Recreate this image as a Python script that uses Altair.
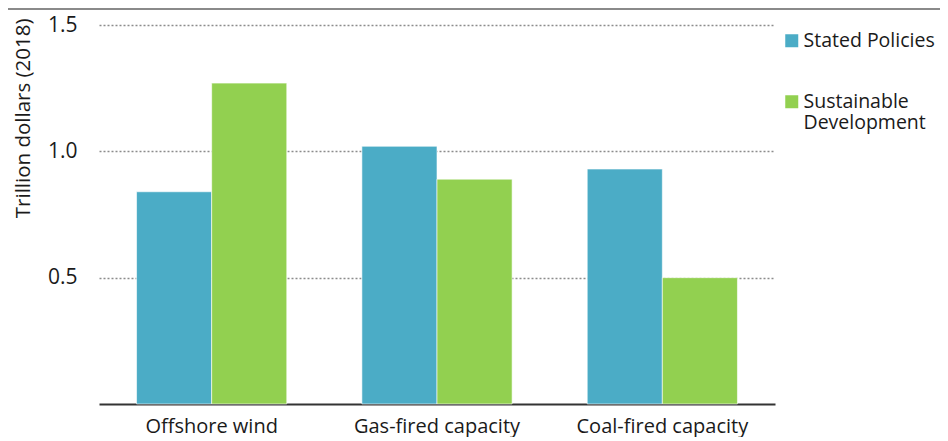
import altair as alt
import pandas as pd

categories = ["Offshore wind", "Gas-fired capacity", "Coal-fired capacity"]
scenarios = ["Stated Policies", "Sustainable Development"]
stated_policies = [0.84, 1.02, 0.93]
sustainable_development = [1.27, 0.89, 0.50]
colors = ["#4BACC6", "#92D050"]
y_ticks = [0.5, 1.0, 1.5]

rows = []
for c, a, b in zip(categories, stated_policies, sustainable_development):
    rows.append({"category": c, "scenario": scenarios[0], "value": a})
    rows.append({"category": c, "scenario": scenarios[1], "value": b})
df = pd.DataFrame(rows)

FONT = "Open Sans"
TXT = "#1a1a1a"

bars = alt.Chart(df).mark_bar(stroke="white", strokeWidth=0.6).encode(
    x=alt.X(
        "category:N", sort=categories, title=None,
        scale=alt.Scale(paddingInner=1 / 3, paddingOuter=1 / 6),
        axis=alt.Axis(labelAngle=0, labelFontSize=20, labelColor=TXT, labelFont=FONT,
                      domainColor="#333333", domainWidth=2, ticks=False, labelPadding=12),
    ),
    xOffset=alt.XOffset("scenario:N", sort=scenarios,
                        scale=alt.Scale(paddingInner=0, paddingOuter=0)),
    y=alt.Y(
        "value:Q", title="Trillion dollars (2018)",
        scale=alt.Scale(domain=[0, 1.5], nice=False),
        axis=alt.Axis(values=y_ticks, format=".1f", domain=False, ticks=False, grid=True,
                      gridDash=[2, 2], gridColor="#8c8c8c", gridWidth=1.4,
                      labelFontSize=21, labelFont=FONT, labelColor=TXT, labelPadding=22,
                      titleFont=FONT, titleFontSize=20.5, titleFontWeight="normal",
                      titleColor=TXT, titleAngle=270, titleAlign="right",
                      titleBaseline="middle", titleX=-76, titleY=-7),
    ),
    color=alt.Color(
        "scenario:N", sort=scenarios,
        scale=alt.Scale(domain=scenarios, range=colors),
        legend=alt.Legend(
            title=None, orient="none", legendX=683, legendY=6,
            symbolType="square", symbolSize=169, symbolStrokeWidth=0,
            labelFont=FONT, labelFontSize=19.5, labelColor=TXT, labelLimit=300,
            labelOffset=2, rowPadding=40, labelBaseline="middle",
            labelExpr="datum.label == 'Sustainable Development' ? ['Sustainable', 'Development'] : datum.label",
        ),
    ),
)

top_line = alt.Chart(pd.DataFrame({"k": [0]})).mark_rule(
    color="#8a8a8a", strokeWidth=2
).encode(x=alt.value(-91), x2=alt.value(841), y=alt.value(-16))

chart = alt.layer(bars, top_line).properties(
    width=676, height=379,
    autosize=alt.AutoSizeParams(type="none"),
    padding={"left": 91, "top": 17, "right": 165, "bottom": 33},
).configure_view(stroke=None)

chart.save("out.html", embed_options={"renderer": "svg", "actions": False})
